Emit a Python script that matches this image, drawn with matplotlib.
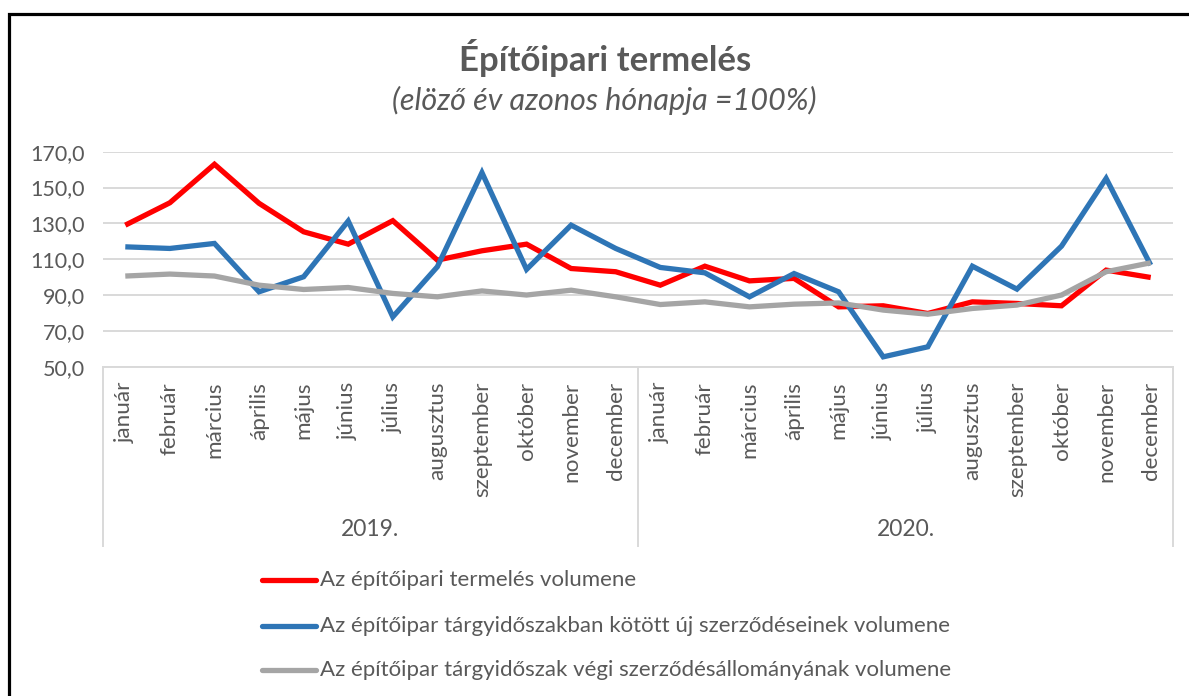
import matplotlib
matplotlib.use('Agg')
import matplotlib.pyplot as plt
from matplotlib.patches import Rectangle
from matplotlib.lines import Line2D

# ============================================================
# Data
# ============================================================
months = ['január', 'február', 'március', 'április', 'május', 'június',
          'július', 'augusztus', 'szeptember', 'október', 'november', 'december']
years = ['2019.', '2020.']

termeles = [129.0, 141.5, 163.0, 141.2, 125.3, 118.4, 131.5, 109.5, 114.7, 118.4, 104.8, 103.0,
            95.5, 106.1, 97.9, 99.3, 83.4, 84.0, 79.7, 86.2, 85.3, 84.0, 103.9, 99.8]
uj_szerzodes = [116.9, 116.0, 118.8, 91.8, 100.2, 131.3, 77.8, 105.8, 158.3, 104.3, 129.0, 116.0,
                105.4, 102.4, 89.0, 102.0, 91.8, 55.5, 61.1, 106.1, 93.3, 117.3, 155.1, 106.7]
allomany = [100.6, 101.7, 100.6, 95.5, 93.1, 94.2, 90.9, 89.0, 92.3, 90.0, 92.7, 89.0,
            84.7, 86.2, 83.4, 84.9, 85.6, 81.6, 79.3, 82.5, 84.4, 90.0, 103.0, 108.0]

series_names = ['Az építőipari termelés volumene',
                'Az építőipar tárgyidőszakban kötött új szerződéseinek volumene',
                'Az építőipar tárgyidőszak végi szerződésállományának volumene']
series_colors = ['#ff0000', '#2e75b6', '#a5a5a5']

y_ticks = [50, 70, 90, 110, 130, 150, 170]

# ============================================================
# Layout helpers (pixel -> figure fraction)
# ============================================================
W, H = 1189, 696
plt.rcParams['font.family'] = ['Lato', 'DejaVu Sans']
TXT = '#595959'


def fx(x):
    return x / W


def fy(y):
    return 1 - y / H


fig = plt.figure(figsize=(W / 100, H / 100), dpi=100)

# outer black frame
fig.patches.append(Rectangle((fx(9), fy(700)), fx(1200) - fx(9), fy(14) - fy(700),
                             transform=fig.transFigure, fill=False,
                             edgecolor='black', linewidth=2.3))

ax_l, ax_r, ax_t, ax_b = 103, 1173, 151.7, 366.7
ax = fig.add_axes([fx(ax_l), fy(ax_b), fx(ax_r) - fx(ax_l), fy(ax_t) - fy(ax_b)])

all_series = [termeles, uj_szerzodes, allomany]
x = list(range(len(termeles)))
for vals, clr, name in zip(all_series, series_colors, series_names):
    ax.plot(x, vals, color=clr, linewidth=3.8, solid_joinstyle='miter',
            solid_capstyle='butt', label=name, zorder=3)

ax.set_xlim(-0.5, len(x) - 0.5)
ax.set_ylim(50, 170)
ax.set_yticks(y_ticks)
ax.set_yticklabels([f'{v:.1f}'.replace('.', ',') for v in y_ticks],
                   fontsize=15.5, color=TXT)
ax.tick_params(axis='y', length=0, pad=13)
ax.yaxis.grid(True, color='#d9d9d9', linewidth=1.4)
ax.set_axisbelow(True)
for s in ['left', 'right', 'top']:
    ax.spines[s].set_visible(False)
ax.spines['bottom'].set_color('#d9d9d9')
ax.spines['bottom'].set_linewidth(1.4)

# month labels
ax.set_xticks(x)
ax.set_xticklabels(months * len(years), rotation=90, fontsize=16.2, color=TXT,
                   va='top', ha='center')
ax.tick_params(axis='x', length=0, pad=11)

# category group separators and year labels
trans = ax.get_xaxis_transform()
sep_bottom = -(546 - ax_b) / (ax_b - ax_t)
for xs in [-0.5, 11.5, 23.5]:
    ax.add_line(Line2D([xs, xs], [0, sep_bottom], transform=trans,
                       color='#d9d9d9', linewidth=1.4, clip_on=False))
year_y = -(530 - ax_b) / (ax_b - ax_t)
for i, yr in enumerate(years):
    ax.text(5.5 + 12 * i, year_y, yr, transform=trans, ha='center', va='center',
            fontsize=16.5, color=TXT)

# titles
fig.text(fx(605), fy(58), 'Építőipari termelés', ha='center', va='center',
         fontsize=25, fontweight='bold', color=TXT)
fig.text(fx(604), fy(100), '(elöző év azonos hónapja =100%)', ha='center', va='center',
         fontsize=22, fontstyle='italic', color=TXT)

# legend (drawn by hand to mimic the Excel layout)
for i, (clr, name) in enumerate(zip(series_colors, series_names)):
    yy = [580, 626, 670][i]
    fig.add_artist(Line2D([fx(262), fx(316)], [fy(yy), fy(yy)], transform=fig.transFigure,
                          color=clr, linewidth=3.8, solid_capstyle='round'))
    fig.text(fx(320), fy(yy), name, ha='left', va='center', fontsize=16, color=TXT)

fig.savefig('out.png', dpi=100)
